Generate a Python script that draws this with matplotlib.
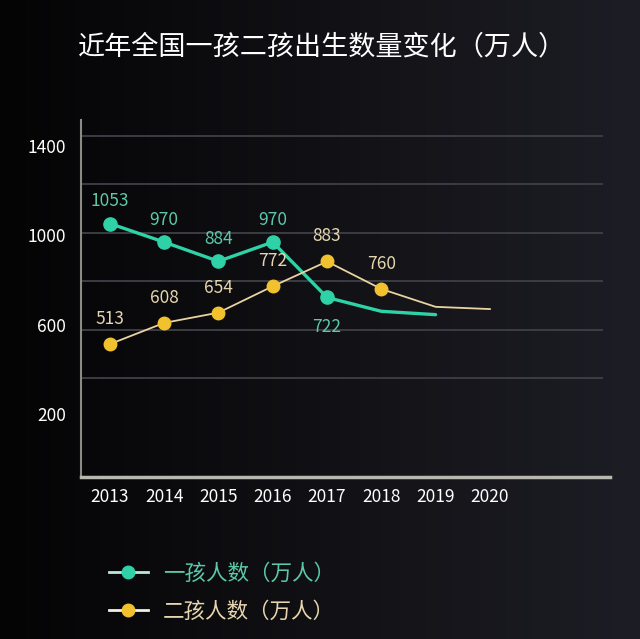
import numpy as np
import matplotlib
matplotlib.use("Agg")
import matplotlib.pyplot as plt
from matplotlib.lines import Line2D
from matplotlib.colors import LinearSegmentedColormap

plt.rcParams['font.family'] = ['Noto Sans CJK SC', 'DejaVu Sans']

title = "近年全国一孩二孩出生数量变化（万人）"
years = [2013, 2014, 2015, 2016, 2017, 2018, 2019, 2020]
first_years = [2013, 2014, 2015, 2016, 2017, 2018, 2019]
first_vals = [1053, 970, 884, 970, 722, 660, 645]
first_labeled = 5  # first five points carry markers / labels
second_years = [2013, 2014, 2015, 2016, 2017, 2018, 2019, 2020]
second_vals = [513, 608, 654, 772, 883, 760, 680, 670]
second_labeled = 6
yticks = [200, 600, 1000, 1400]
series_names = ["一孩人数（万人）", "二孩人数（万人）"]

teal = "#2fd1a6"
teal_txt = "#5cc9a6"
gold = "#f2c12e"
gold_line = "#e9d3a0"
gold_txt = "#e6d6b0"

fig = plt.figure(figsize=(6.40, 6.39), dpi=100)
fig.patch.set_facecolor("#0c0c0f")

# background gradient
bg = fig.add_axes([0, 0, 1, 1], zorder=-10)
grad = np.linspace(0, 1, 256)[None, :]
cmap = LinearSegmentedColormap.from_list("bg", ["#040405", "#111115", "#1d1d25"])
bg.imshow(grad, aspect="auto", cmap=cmap, extent=[0, 1, 0, 1])
bg.axis("off")

ax = fig.add_axes([0.1266, 0.2535, 0.8264, 0.5585])
ax.set_facecolor("none")
ax.set_xlim(2012.47, 2022.21)
ax.set_ylim(-82, 1516)

# grid lines
for gv in [361, 578, 795, 1011, 1228, 1445]:
    ax.axhline(gv, xmin=0.0, xmax=0.985, color="#3c3c44", lw=1.4, zorder=1)

ax.plot(first_years, first_vals, color=teal, lw=2.4, zorder=3, solid_capstyle="round")
ax.plot(first_years[:first_labeled], first_vals[:first_labeled], ls="none",
        marker="o", ms=9.5, color=teal, zorder=4)
ax.plot(second_years, second_vals, color=gold_line, lw=1.3, zorder=3)
ax.plot(second_years[:second_labeled], second_vals[:second_labeled], ls="none",
        marker="o", ms=9, color=gold, zorder=4)

for i in range(first_labeled):
    off = (0, 16) if i < 4 else (0, -21)
    ax.annotate(str(first_vals[i]), (first_years[i], first_vals[i]), xytext=off,
                textcoords="offset points", ha="center", va="center",
                color=teal_txt, fontsize=12.5)
for i in range(second_labeled):
    ax.annotate(str(second_vals[i]), (second_years[i], second_vals[i]), xytext=(0, 18),
                textcoords="offset points", ha="center", va="center",
                color=gold_txt, fontsize=12.5)

ax.set_xticks(years)
ax.set_xticklabels([str(y) for y in years], color="white", fontsize=12.5)
ax.set_yticks(yticks)
ax.set_yticklabels([str(v) for v in yticks], color="white", fontsize=12.5)
ax.tick_params(axis="both", length=0)
ax.tick_params(axis="x", pad=8)
ax.tick_params(axis="y", pad=11)

for s in ["top", "right"]:
    ax.spines[s].set_visible(False)
ax.spines["left"].set_color("#8a8a86")
ax.spines["left"].set_linewidth(1.5)
ax.spines["bottom"].set_color("#b8b8b0")
ax.spines["bottom"].set_linewidth(2.5)

fig.text(0.122, 0.927, title, color="white", fontsize=19.5, ha="left", va="center")

# legend
handles = [
    Line2D([0], [0], color="#b8e8d8", lw=2, marker="o", ms=9, markerfacecolor=teal,
           markeredgecolor=teal),
    Line2D([0], [0], color="#f2f0e0", lw=2, marker="o", ms=9, markerfacecolor=gold,
           markeredgecolor=gold),
]
leg = fig.legend(handles, series_names, loc="upper left", bbox_to_anchor=(0.14, 0.15),
                 frameon=False, fontsize=15.5, labelcolor=[teal_txt, gold_txt],
                 handlelength=1.8, handletextpad=0.7, labelspacing=0.75)

fig.savefig("out.png", dpi=100, facecolor=fig.get_facecolor())
